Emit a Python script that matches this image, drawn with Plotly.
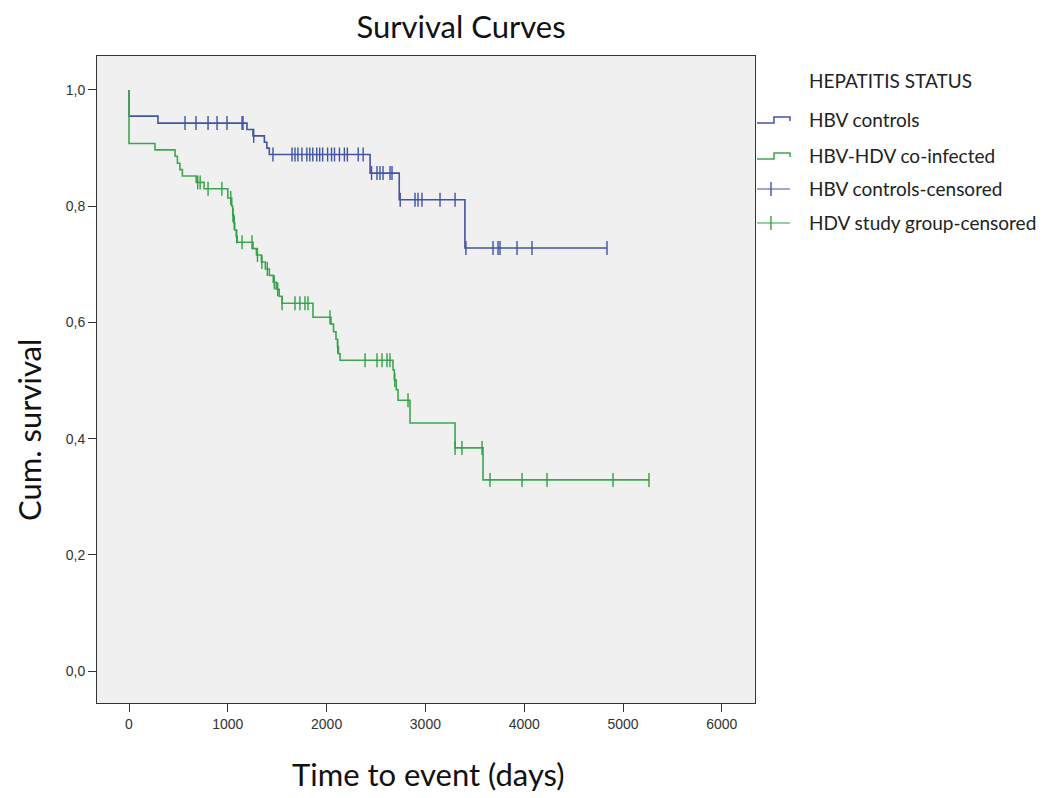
import plotly.graph_objects as go

# ---------------- data ----------------
# Kaplan-Meier step points (time in days, cumulative survival)
hbv_step_t = [0, 0, 293, 1194, 1255, 1370, 1395, 1420, 2440, 2735, 3400]
hbv_step_s = [1.0, 0.955, 0.943, 0.932, 0.921, 0.910, 0.900, 0.889, 0.857, 0.811, 0.728]
hbv_censored_t = [567, 678, 800, 891, 992, 1144, 1154, 1262, 1457,
                  1650, 1680, 1710, 1750, 1800, 1830, 1860, 1900, 1930, 1960,
                  2010, 2050, 2080, 2130, 2180, 2210, 2320, 2370,
                  2455, 2510, 2540, 2571, 2642, 2662,
                  2745, 2895, 2925, 2965, 3148, 3300,
                  3410, 3684, 3735, 3755, 3927, 4079, 4838]

hdv_step_t = [0, 0, 263, 466, 490, 515, 540, 680, 760, 1000, 1040, 1050, 1060,
              1070, 1085, 1095, 1255, 1290, 1340, 1380, 1420, 1460, 1490, 1520,
              1549, 1862, 2045, 2070, 2095, 2110, 2120, 2136, 2672, 2685, 2705,
              2723, 2844, 3300, 3583]
hdv_step_s = [1.0, 0.908, 0.897, 0.886, 0.874, 0.863, 0.852, 0.841, 0.830, 0.814,
              0.800, 0.785, 0.771, 0.759, 0.748, 0.738, 0.727, 0.716, 0.704, 0.692,
              0.681, 0.669, 0.657, 0.645, 0.633, 0.609, 0.597, 0.584, 0.571, 0.558,
              0.546, 0.535, 0.518, 0.501, 0.484, 0.466, 0.427, 0.384, 0.329]
hdv_censored_t = [695, 720, 800, 940, 1030, 1052, 1065, 1090, 1144, 1245,
                  1300, 1345, 1400, 1470, 1505, 1549, 1680, 1730, 1781, 1812,
                  2034, 2112, 2389, 2510, 2561, 2611, 2641, 2690, 2824, 3300,
                  3370, 3573, 3654, 3978, 4231, 4899, 5263]

x_tick_vals = [0, 1000, 2000, 3000, 4000, 5000, 6000]
x_tick_text = ["0", "1000", "2000", "3000", "4000", "5000", "6000"]
y_tick_vals = [0.0, 0.2, 0.4, 0.6, 0.8, 1.0]
y_tick_text = ["0,0", "0,2", "0,4", "0,6", "0,8", "1,0"]

legend_title = "HEPATITIS STATUS"
legend_labels = ["HBV controls", "HBV-HDV co-infected",
                 "HBV controls-censored", "HDV study group-censored"]

BLUE = "#4454A0"
GREEN = "#3FA650"
BLUE_TICK = "#3E53A8"
GREEN_TICK = "#2FA147"
FONT = "Lato, Open Sans, sans-serif"


def surv_at(step_t, step_s, t):
    s = step_s[0]
    for tt, ss in zip(step_t, step_s):
        if tt <= t:
            s = ss
    return s


def step_trace(step_t, step_s, end_t, color):
    xs = list(step_t) + [end_t]
    ys = list(step_s) + [step_s[-1]]
    return go.Scatter(x=xs, y=ys, mode="lines", line=dict(color=color, width=1.6, shape="hv"),
                      hoverinfo="skip", showlegend=False)


def cens_trace(step_t, step_s, cens_t, color):
    ys = [surv_at(step_t, step_s, t) for t in cens_t]
    return go.Scatter(x=cens_t, y=ys, mode="markers",
                      marker=dict(symbol="line-ns", size=10, line=dict(color=color, width=1.4)),
                      hoverinfo="skip", showlegend=False)


fig = go.Figure()
fig.add_trace(step_trace(hbv_step_t, hbv_step_s, max(hbv_censored_t), BLUE))
fig.add_trace(step_trace(hdv_step_t, hdv_step_s, max(hdv_censored_t), GREEN))
fig.add_trace(cens_trace(hbv_step_t, hbv_step_s, hbv_censored_t, BLUE_TICK))
fig.add_trace(cens_trace(hdv_step_t, hdv_step_s, hdv_censored_t, GREEN_TICK))

# layout geometry (pixels, target screen coords); page body adds an 8px offset
OFF = 8
W, H = 1051 - OFF, 798 - OFF
L, R, T, B = 97 - OFF, 755 - OFF, 56 - OFF, 703 - OFF


def px(x):
    return (x - OFF - L) / (R - L)


def py(y):
    return (B - (y - OFF)) / (B - T)


axis_common = dict(showline=True, linecolor="#333333", linewidth=1, mirror=True,
                   ticks="outside", ticklen=8, tickcolor="#333333", showgrid=False,
                   zeroline=False, tickfont=dict(family="Liberation Sans, Arial", size=14, color="#333333"))

fig.update_xaxes(range=[-324, 6336], tickvals=x_tick_vals, ticktext=x_tick_text, **axis_common)
fig.update_yaxes(range=[-0.055, 1.0585], tickvals=y_tick_vals, ticktext=y_tick_text, **axis_common)

fig.update_layout(
    width=W, height=H,
    margin=dict(l=L, r=W - R, t=T, b=H - B),
    paper_bgcolor="white", plot_bgcolor="#F0F0F0",
    showlegend=False,
    title=dict(text="Survival Curves", x=(461 - OFF) / W, xanchor="center", y=1 - (27 - OFF) / H,
               yanchor="middle", font=dict(family=FONT, size=31, color="#111111")),
)

# axis titles
fig.add_annotation(text="Time to event (days)", xref="paper", yref="paper", x=px(428), y=py(774),
                   xanchor="center", yanchor="middle", showarrow=False,
                   font=dict(family=FONT, size=31, color="#111111"))
fig.add_annotation(text="Cum. survival", xref="paper", yref="paper", x=px(29), y=py(430),
                   xanchor="center", yanchor="middle", showarrow=False, textangle=-90,
                   font=dict(family=FONT, size=31, color="#111111"))

# manual legend
fig.add_annotation(text=legend_title, xref="paper", yref="paper", x=px(807), y=py(81),
                   xanchor="left", yanchor="middle", showarrow=False,
                   font=dict(family=FONT, size=19, color="#222222"))
item_y = [119, 155, 188, 222]
item_colors = [BLUE, GREEN, BLUE_TICK, GREEN_TICK]
for i, (lab, yy, col) in enumerate(zip(legend_labels, item_y, item_colors)):
    fig.add_annotation(text=lab, xref="paper", yref="paper", x=px(807), y=py(yy),
                       xanchor="left", yanchor="middle", showarrow=False,
                       font=dict(family=FONT, size=19, color="#222222"))
    if i < 2:
        path = (f"M {px(757)} {py(yy + 4)} L {px(774)} {py(yy + 4)} L {px(774)} {py(yy - 2)} "
                f"L {px(790)} {py(yy - 2)} L {px(790)} {py(yy + 2)}")
        fig.add_shape(type="path", path=path, xref="paper", yref="paper",
                      line=dict(color=col, width=1.5))
    else:
        fig.add_shape(type="line", xref="paper", yref="paper", x0=px(757), x1=px(790),
                      y0=py(yy + 1), y1=py(yy + 1), line=dict(color=col, width=1.2))
        fig.add_shape(type="line", xref="paper", yref="paper", x0=px(771), x1=px(771),
                      y0=py(yy - 6), y1=py(yy + 8), line=dict(color=col, width=1.4))

fig.write_html("out.html")
